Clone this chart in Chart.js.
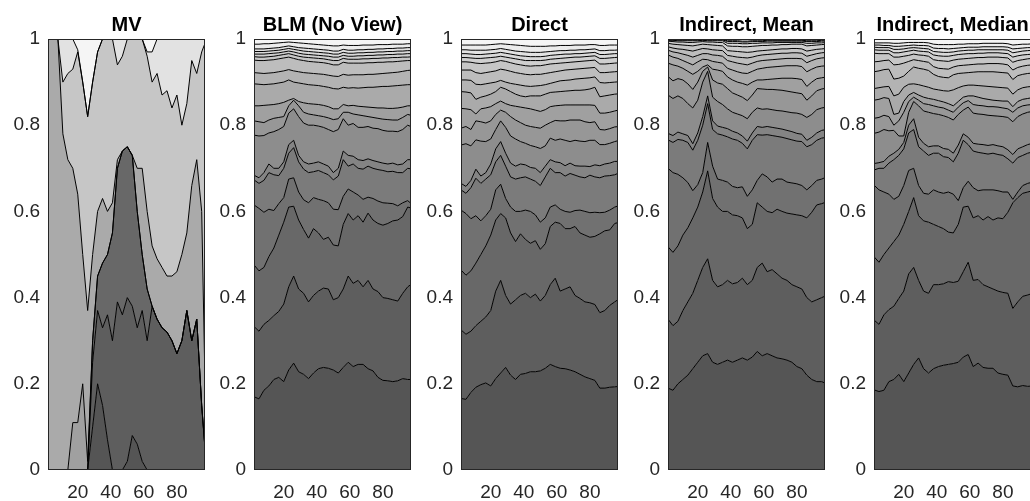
<!DOCTYPE html>
<html>
<head>
<meta charset="utf-8">
<script src="https://cdn.jsdelivr.net/npm/chart.js@4.4.1/dist/chart.umd.min.js"></script>
<style>
  html, body { margin: 0; padding: 0; background: #fff; overflow: hidden; }
  #wrap { position: relative; width: 1030px; height: 501px; overflow: hidden; }
  canvas { position: absolute; top: 0; }
</style>
</head>
<body>
<div id="wrap">
  <canvas id="p0" width="206" height="501" style="left:0px"></canvas>
  <canvas id="p1" width="206" height="501" style="left:206px"></canvas>
  <canvas id="p2" width="206" height="501" style="left:413px"></canvas>
  <canvas id="p3" width="206" height="501" style="left:620px"></canvas>
  <canvas id="p4" width="206" height="501" style="left:826px"></canvas>
</div>
<script>
// periods (x) shared by every panel
const X = [2,5,8,11,14,17,20,23,26,29,32,35,38,41,44,47,50,53,56,59,62,65,68,71,74,77,80,83,86,89,92,95,98];
const X_TICKS = [20, 40, 60, 80];
const Y_TICKS = [0, 0.2, 0.4, 0.6, 0.8, 1];
const TITLES = ["MV", "BLM (No View)", "Direct", "Indirect, Mean", "Indirect, Median"];

// cumulative weight boundaries, bottom to top
const MV = [
  [0,0,0,0,0,0,0,0,0,0.1,0.2,0.15,0.07,0,0,0,0.02,0.08,0.06,0.02,0,0,0,0,0,0,0,0,0,0,0,0,0],
  [0,0,0,0,0,0,0,0,0,0.25,0.37,0.33,0.36,0.3,0.39,0.36,0.4,0.38,0.33,0.37,0.3,0.38,0.35,0.33,0.32,0.3,0.27,0.3,0.37,0.3,0.35,0.15,0],
  [0,0,0,0,0,0,0,0,0,0.3,0.45,0.48,0.5,0.55,0.7,0.74,0.75,0.73,0.6,0.5,0.42,0.38,0.35,0.33,0.32,0.3,0.27,0.3,0.37,0.3,0.35,0.15,0],
  [0,0,0,0,0,0.11,0.11,0.2,0.02,0.3,0.45,0.48,0.5,0.55,0.7,0.74,0.75,0.73,0.6,0.5,0.42,0.38,0.35,0.33,0.32,0.3,0.27,0.3,0.37,0.3,0.35,0.15,0],
  [1,1,1,0.78,0.72,0.7,0.64,0.5,0.37,0.5,0.6,0.63,0.6,0.62,0.72,0.74,0.75,0.73,0.7,0.7,0.6,0.52,0.49,0.47,0.45,0.45,0.46,0.5,0.55,0.66,0.72,0.6,0],
  [1,1,1,0.9,0.92,0.93,0.97,0.9,0.82,0.9,0.97,1,1,1,0.94,0.96,1,1,1,1,0.96,0.9,0.92,0.87,0.88,0.84,0.87,0.8,0.85,0.95,0.92,0.97,1],
  [1,1,1,1,1,1,0.975,0.9,0.82,0.9,0.97,1,1,1,1,1,1,1,1,1,0.97,0.97,1,1,1,1,1,1,1,1,1,1,1]
];
const MV_SHADES = [0, 1, 2, 8, 9, 12, 15, 17];

const BLM = [
  [0.17,0.165,0.185,0.195,0.21,0.215,0.205,0.232,0.248,0.228,0.222,0.212,0.225,0.235,0.238,0.236,0.232,0.225,0.238,0.25,0.24,0.245,0.245,0.235,0.23,0.215,0.208,0.207,0.205,0.207,0.212,0.21,0.21],
  [0.333,0.322,0.338,0.347,0.358,0.368,0.385,0.425,0.45,0.42,0.41,0.39,0.405,0.415,0.422,0.42,0.395,0.4,0.42,0.45,0.433,0.44,0.425,0.44,0.42,0.414,0.4,0.398,0.395,0.392,0.41,0.425,0.433],
  [0.476,0.462,0.47,0.495,0.515,0.545,0.575,0.61,0.612,0.58,0.558,0.538,0.56,0.55,0.535,0.54,0.522,0.52,0.57,0.595,0.58,0.59,0.575,0.596,0.58,0.572,0.568,0.572,0.578,0.58,0.588,0.61,0.607],
  [0.615,0.607,0.598,0.605,0.602,0.618,0.632,0.675,0.678,0.645,0.627,0.62,0.632,0.628,0.625,0.62,0.605,0.604,0.635,0.652,0.645,0.638,0.628,0.633,0.63,0.624,0.62,0.619,0.618,0.613,0.62,0.625,0.615],
  [0.673,0.665,0.672,0.69,0.685,0.683,0.7,0.735,0.748,0.715,0.698,0.69,0.692,0.695,0.69,0.685,0.673,0.682,0.72,0.705,0.71,0.7,0.698,0.705,0.7,0.697,0.695,0.692,0.693,0.69,0.69,0.7,0.698],
  [0.684,0.678,0.69,0.71,0.7,0.7,0.715,0.755,0.765,0.73,0.715,0.71,0.712,0.715,0.71,0.705,0.69,0.7,0.74,0.73,0.728,0.72,0.718,0.722,0.718,0.715,0.712,0.71,0.712,0.708,0.71,0.72,0.72],
  [0.777,0.775,0.776,0.782,0.785,0.79,0.797,0.828,0.838,0.82,0.805,0.8,0.8,0.798,0.795,0.79,0.785,0.79,0.815,0.8,0.804,0.795,0.795,0.797,0.793,0.792,0.788,0.786,0.786,0.785,0.79,0.8,0.795],
  [0.81,0.808,0.806,0.812,0.816,0.818,0.82,0.845,0.858,0.845,0.83,0.826,0.824,0.822,0.82,0.817,0.813,0.815,0.83,0.83,0.826,0.824,0.822,0.82,0.818,0.816,0.814,0.813,0.812,0.812,0.818,0.825,0.822],
  [0.845,0.845,0.846,0.847,0.848,0.85,0.853,0.858,0.862,0.855,0.852,0.85,0.849,0.848,0.846,0.843,0.838,0.838,0.848,0.845,0.846,0.844,0.843,0.842,0.841,0.84,0.84,0.839,0.839,0.84,0.842,0.845,0.845],
  [0.896,0.895,0.894,0.895,0.896,0.898,0.9,0.905,0.9,0.898,0.896,0.894,0.893,0.892,0.89,0.888,0.885,0.884,0.888,0.886,0.887,0.886,0.887,0.888,0.888,0.889,0.89,0.89,0.891,0.892,0.893,0.894,0.894],
  [0.922,0.921,0.92,0.921,0.922,0.924,0.926,0.929,0.926,0.924,0.922,0.921,0.92,0.919,0.918,0.916,0.914,0.913,0.918,0.916,0.917,0.917,0.917,0.918,0.918,0.919,0.92,0.921,0.922,0.923,0.925,0.927,0.928],
  [0.951,0.95,0.95,0.951,0.952,0.954,0.956,0.958,0.955,0.952,0.95,0.948,0.947,0.946,0.945,0.943,0.94,0.94,0.946,0.944,0.944,0.944,0.944,0.945,0.945,0.946,0.946,0.947,0.947,0.948,0.949,0.95,0.95],
  [0.959,0.958,0.958,0.959,0.96,0.962,0.964,0.966,0.963,0.96,0.958,0.957,0.956,0.955,0.954,0.952,0.95,0.95,0.955,0.953,0.953,0.953,0.954,0.954,0.955,0.955,0.956,0.956,0.957,0.957,0.958,0.958,0.959],
  [0.965,0.965,0.965,0.966,0.967,0.968,0.97,0.972,0.97,0.967,0.965,0.964,0.963,0.962,0.961,0.96,0.958,0.958,0.962,0.96,0.96,0.961,0.961,0.962,0.962,0.963,0.963,0.964,0.964,0.965,0.965,0.966,0.966],
  [0.971,0.971,0.971,0.972,0.973,0.974,0.976,0.978,0.976,0.974,0.972,0.971,0.97,0.969,0.968,0.967,0.965,0.965,0.969,0.967,0.967,0.968,0.968,0.969,0.969,0.97,0.97,0.971,0.971,0.972,0.972,0.973,0.973],
  [0.977,0.977,0.977,0.978,0.979,0.98,0.982,0.984,0.982,0.98,0.979,0.978,0.977,0.976,0.975,0.974,0.972,0.972,0.976,0.974,0.974,0.975,0.975,0.976,0.976,0.977,0.977,0.978,0.978,0.979,0.979,0.98,0.98],
  [0.988,0.988,0.989,0.989,0.99,0.991,0.992,0.993,0.992,0.991,0.99,0.989,0.988,0.987,0.986,0.985,0.984,0.984,0.986,0.985,0.985,0.985,0.986,0.986,0.986,0.987,0.987,0.987,0.988,0.988,0.988,0.989,0.989]
];

const DIRECT = [
  [0.166,0.164,0.18,0.192,0.198,0.202,0.195,0.212,0.225,0.238,0.22,0.21,0.222,0.224,0.228,0.228,0.23,0.236,0.245,0.24,0.236,0.235,0.232,0.228,0.222,0.216,0.212,0.208,0.19,0.19,0.192,0.193,0.194],
  [0.325,0.315,0.322,0.335,0.345,0.355,0.37,0.415,0.44,0.405,0.385,0.395,0.405,0.41,0.4,0.408,0.392,0.405,0.43,0.445,0.415,0.42,0.425,0.405,0.398,0.39,0.388,0.384,0.365,0.37,0.382,0.39,0.398],
  [0.464,0.452,0.462,0.48,0.5,0.52,0.545,0.58,0.595,0.585,0.55,0.53,0.548,0.535,0.526,0.532,0.512,0.525,0.565,0.575,0.572,0.56,0.56,0.565,0.55,0.545,0.54,0.542,0.548,0.555,0.557,0.572,0.575],
  [0.603,0.595,0.583,0.59,0.578,0.59,0.605,0.65,0.663,0.63,0.61,0.6,0.6,0.603,0.6,0.592,0.575,0.585,0.61,0.615,0.605,0.6,0.598,0.602,0.603,0.6,0.597,0.598,0.597,0.598,0.603,0.61,0.614],
  [0.65,0.642,0.655,0.677,0.665,0.675,0.685,0.715,0.73,0.705,0.68,0.675,0.678,0.68,0.675,0.67,0.66,0.68,0.7,0.69,0.69,0.682,0.688,0.684,0.68,0.678,0.684,0.68,0.678,0.682,0.683,0.685,0.69],
  [0.665,0.658,0.672,0.698,0.682,0.69,0.71,0.745,0.762,0.735,0.712,0.705,0.71,0.708,0.702,0.7,0.69,0.705,0.72,0.715,0.713,0.706,0.712,0.706,0.705,0.705,0.704,0.708,0.706,0.71,0.712,0.716,0.716],
  [0.754,0.757,0.752,0.766,0.763,0.762,0.768,0.79,0.81,0.795,0.775,0.768,0.762,0.758,0.753,0.75,0.746,0.752,0.77,0.765,0.768,0.765,0.762,0.765,0.763,0.762,0.765,0.765,0.755,0.755,0.758,0.762,0.765],
  [0.793,0.797,0.79,0.81,0.808,0.805,0.81,0.825,0.835,0.83,0.82,0.812,0.806,0.8,0.797,0.795,0.793,0.8,0.806,0.811,0.81,0.81,0.812,0.812,0.812,0.808,0.806,0.808,0.79,0.789,0.792,0.796,0.797],
  [0.839,0.838,0.836,0.826,0.838,0.84,0.843,0.85,0.856,0.85,0.846,0.844,0.842,0.84,0.838,0.835,0.832,0.836,0.843,0.845,0.846,0.847,0.847,0.847,0.847,0.847,0.847,0.846,0.828,0.828,0.83,0.833,0.836],
  [0.878,0.877,0.875,0.86,0.865,0.868,0.872,0.878,0.888,0.884,0.878,0.872,0.868,0.866,0.868,0.868,0.868,0.872,0.876,0.877,0.878,0.879,0.88,0.881,0.881,0.882,0.884,0.888,0.866,0.868,0.87,0.872,0.873],
  [0.905,0.905,0.904,0.895,0.894,0.896,0.898,0.9,0.904,0.9,0.897,0.895,0.893,0.891,0.89,0.891,0.892,0.894,0.897,0.9,0.903,0.904,0.905,0.907,0.908,0.909,0.91,0.912,0.899,0.898,0.899,0.9,0.901],
  [0.928,0.928,0.928,0.922,0.92,0.922,0.924,0.926,0.93,0.928,0.925,0.922,0.92,0.918,0.917,0.918,0.918,0.92,0.922,0.924,0.926,0.928,0.929,0.93,0.931,0.932,0.933,0.934,0.922,0.922,0.923,0.924,0.925],
  [0.947,0.947,0.946,0.944,0.943,0.944,0.945,0.947,0.95,0.948,0.945,0.942,0.94,0.938,0.937,0.938,0.938,0.94,0.942,0.943,0.944,0.945,0.946,0.947,0.948,0.949,0.95,0.951,0.942,0.942,0.943,0.944,0.945],
  [0.957,0.957,0.956,0.955,0.955,0.956,0.957,0.958,0.96,0.958,0.956,0.954,0.952,0.95,0.95,0.95,0.95,0.951,0.953,0.954,0.955,0.956,0.957,0.958,0.958,0.959,0.96,0.961,0.955,0.955,0.956,0.957,0.958],
  [0.966,0.966,0.965,0.964,0.964,0.965,0.966,0.967,0.969,0.967,0.965,0.963,0.961,0.96,0.959,0.959,0.959,0.96,0.962,0.963,0.964,0.965,0.965,0.966,0.966,0.967,0.968,0.969,0.964,0.964,0.965,0.966,0.966],
  [0.975,0.975,0.974,0.974,0.974,0.974,0.975,0.976,0.978,0.976,0.974,0.972,0.971,0.97,0.969,0.969,0.969,0.97,0.971,0.972,0.973,0.973,0.974,0.974,0.975,0.975,0.976,0.977,0.973,0.973,0.974,0.974,0.975],
  [0.986,0.986,0.986,0.986,0.986,0.986,0.987,0.988,0.989,0.988,0.987,0.986,0.985,0.984,0.983,0.983,0.983,0.983,0.984,0.984,0.985,0.985,0.985,0.986,0.986,0.986,0.987,0.987,0.985,0.985,0.986,0.986,0.986]
];

const MEAN = [
  [0.19,0.185,0.2,0.21,0.22,0.235,0.25,0.265,0.27,0.25,0.245,0.25,0.255,0.25,0.255,0.26,0.255,0.262,0.275,0.265,0.27,0.265,0.26,0.258,0.255,0.25,0.24,0.235,0.22,0.21,0.205,0.205,0.2],
  [0.35,0.335,0.345,0.37,0.39,0.41,0.44,0.47,0.49,0.44,0.425,0.43,0.44,0.432,0.435,0.445,0.43,0.44,0.47,0.48,0.46,0.465,0.455,0.445,0.44,0.43,0.425,0.42,0.4,0.39,0.395,0.4,0.405],
  [0.518,0.505,0.52,0.545,0.562,0.585,0.61,0.645,0.694,0.63,0.61,0.6,0.6,0.592,0.59,0.585,0.56,0.57,0.62,0.61,0.6,0.597,0.605,0.6,0.596,0.594,0.592,0.59,0.585,0.598,0.615,0.618,0.622],
  [0.7,0.69,0.686,0.678,0.667,0.648,0.662,0.69,0.76,0.705,0.675,0.672,0.668,0.658,0.655,0.657,0.635,0.65,0.672,0.687,0.68,0.668,0.675,0.675,0.668,0.666,0.664,0.66,0.65,0.66,0.672,0.675,0.68],
  [0.766,0.76,0.767,0.765,0.76,0.742,0.765,0.8,0.85,0.79,0.78,0.777,0.773,0.768,0.765,0.758,0.745,0.765,0.778,0.777,0.778,0.776,0.774,0.772,0.769,0.766,0.763,0.762,0.75,0.755,0.765,0.77,0.772],
  [0.781,0.776,0.784,0.78,0.776,0.757,0.782,0.82,0.868,0.81,0.798,0.795,0.792,0.786,0.782,0.775,0.763,0.782,0.797,0.795,0.797,0.795,0.793,0.791,0.788,0.785,0.781,0.779,0.765,0.772,0.782,0.788,0.79],
  [0.87,0.862,0.868,0.862,0.85,0.84,0.858,0.9,0.925,0.865,0.855,0.848,0.838,0.83,0.826,0.822,0.815,0.83,0.84,0.837,0.838,0.836,0.834,0.833,0.831,0.829,0.828,0.825,0.818,0.825,0.836,0.84,0.842],
  [0.913,0.903,0.908,0.905,0.896,0.883,0.9,0.925,0.935,0.905,0.898,0.895,0.885,0.875,0.87,0.865,0.857,0.87,0.885,0.884,0.883,0.883,0.882,0.881,0.879,0.877,0.875,0.873,0.858,0.868,0.88,0.884,0.886],
  [0.944,0.94,0.937,0.932,0.925,0.918,0.925,0.935,0.94,0.93,0.928,0.925,0.912,0.905,0.9,0.897,0.893,0.9,0.905,0.905,0.906,0.907,0.908,0.909,0.909,0.909,0.908,0.906,0.89,0.9,0.908,0.91,0.912],
  [0.963,0.958,0.955,0.95,0.945,0.94,0.947,0.953,0.952,0.948,0.946,0.944,0.932,0.928,0.924,0.921,0.92,0.925,0.93,0.932,0.934,0.935,0.936,0.937,0.938,0.938,0.938,0.936,0.924,0.93,0.935,0.937,0.938],
  [0.974,0.97,0.968,0.965,0.962,0.958,0.962,0.966,0.966,0.963,0.962,0.96,0.95,0.947,0.944,0.942,0.94,0.944,0.948,0.95,0.951,0.952,0.953,0.954,0.955,0.955,0.955,0.954,0.945,0.95,0.954,0.956,0.957],
  [0.982,0.979,0.977,0.976,0.974,0.972,0.975,0.978,0.977,0.975,0.974,0.973,0.962,0.96,0.958,0.957,0.956,0.958,0.961,0.963,0.964,0.965,0.966,0.967,0.967,0.968,0.968,0.967,0.96,0.963,0.966,0.968,0.969],
  [0.99,0.988,0.987,0.986,0.985,0.984,0.986,0.988,0.987,0.986,0.985,0.984,0.973,0.972,0.971,0.97,0.969,0.97,0.972,0.973,0.974,0.975,0.976,0.977,0.977,0.978,0.978,0.977,0.972,0.974,0.976,0.977,0.978],
  [0.995,0.994,0.993,0.993,0.992,0.992,0.993,0.994,0.993,0.993,0.992,0.992,0.984,0.983,0.983,0.982,0.982,0.983,0.984,0.985,0.985,0.986,0.986,0.987,0.987,0.988,0.988,0.988,0.984,0.985,0.986,0.987,0.988],
  [0.997,0.997,0.996,0.996,0.996,0.996,0.996,0.997,0.996,0.996,0.996,0.996,0.99,0.99,0.99,0.989,0.989,0.99,0.99,0.991,0.991,0.991,0.992,0.992,0.992,0.992,0.992,0.992,0.99,0.99,0.991,0.991,0.992],
  [0.998,0.998,0.998,0.998,0.998,0.998,0.998,0.998,0.998,0.998,0.998,0.998,0.994,0.994,0.994,0.993,0.993,0.994,0.994,0.994,0.995,0.995,0.995,0.995,0.995,0.995,0.995,0.995,0.994,0.994,0.994,0.995,0.995],
  [0.999,0.999,0.999,0.999,0.999,0.999,0.999,0.999,0.999,0.999,0.999,0.999,0.996,0.996,0.996,0.995,0.995,0.996,0.996,0.996,0.997,0.997,0.997,0.997,0.997,0.997,0.997,0.997,0.996,0.996,0.996,0.997,0.997]
];

const MEDIAN = [
  [0.186,0.182,0.185,0.205,0.21,0.222,0.205,0.225,0.245,0.26,0.235,0.225,0.235,0.24,0.243,0.245,0.247,0.25,0.262,0.268,0.24,0.248,0.238,0.236,0.236,0.225,0.222,0.22,0.195,0.193,0.196,0.194,0.195],
  [0.348,0.338,0.36,0.372,0.38,0.398,0.415,0.455,0.47,0.44,0.415,0.41,0.43,0.43,0.432,0.437,0.435,0.438,0.46,0.482,0.44,0.442,0.43,0.425,0.42,0.415,0.412,0.41,0.375,0.39,0.403,0.406,0.41],
  [0.495,0.482,0.5,0.515,0.53,0.545,0.57,0.6,0.632,0.59,0.578,0.575,0.57,0.565,0.56,0.552,0.55,0.57,0.61,0.612,0.585,0.59,0.58,0.588,0.58,0.585,0.583,0.598,0.62,0.632,0.642,0.645,0.648],
  [0.661,0.65,0.645,0.64,0.628,0.635,0.66,0.695,0.7,0.66,0.642,0.64,0.65,0.645,0.642,0.645,0.64,0.625,0.655,0.67,0.655,0.648,0.65,0.65,0.65,0.648,0.645,0.645,0.628,0.645,0.66,0.665,0.668],
  [0.696,0.7,0.7,0.712,0.72,0.73,0.745,0.782,0.79,0.75,0.74,0.73,0.735,0.735,0.727,0.725,0.715,0.735,0.765,0.755,0.74,0.737,0.735,0.733,0.735,0.732,0.73,0.722,0.712,0.725,0.73,0.735,0.738],
  [0.711,0.713,0.716,0.728,0.735,0.744,0.76,0.8,0.815,0.772,0.758,0.75,0.752,0.752,0.746,0.744,0.735,0.754,0.78,0.772,0.758,0.756,0.755,0.753,0.755,0.752,0.75,0.743,0.732,0.745,0.75,0.755,0.758],
  [0.781,0.784,0.79,0.787,0.788,0.775,0.775,0.83,0.855,0.845,0.833,0.83,0.827,0.825,0.822,0.818,0.812,0.825,0.835,0.842,0.828,0.826,0.825,0.823,0.822,0.821,0.82,0.818,0.808,0.82,0.826,0.83,0.832],
  [0.816,0.818,0.823,0.82,0.8,0.81,0.83,0.855,0.865,0.858,0.85,0.848,0.845,0.842,0.84,0.835,0.83,0.842,0.852,0.857,0.848,0.846,0.845,0.843,0.843,0.842,0.84,0.838,0.83,0.84,0.845,0.847,0.848],
  [0.858,0.86,0.864,0.862,0.825,0.828,0.855,0.87,0.876,0.87,0.865,0.862,0.86,0.857,0.854,0.85,0.845,0.855,0.865,0.868,0.868,0.865,0.862,0.86,0.858,0.857,0.856,0.856,0.843,0.855,0.86,0.862,0.864],
  [0.885,0.887,0.889,0.89,0.868,0.872,0.888,0.895,0.896,0.894,0.891,0.888,0.884,0.882,0.88,0.879,0.882,0.887,0.891,0.893,0.893,0.892,0.891,0.89,0.889,0.888,0.887,0.886,0.872,0.882,0.887,0.889,0.89],
  [0.924,0.926,0.929,0.93,0.907,0.909,0.914,0.925,0.935,0.932,0.93,0.927,0.918,0.913,0.911,0.91,0.917,0.92,0.921,0.922,0.923,0.924,0.924,0.924,0.924,0.923,0.922,0.921,0.906,0.915,0.918,0.92,0.921],
  [0.947,0.948,0.95,0.951,0.94,0.941,0.944,0.948,0.952,0.95,0.948,0.946,0.936,0.932,0.931,0.93,0.935,0.938,0.939,0.94,0.941,0.942,0.942,0.943,0.943,0.943,0.942,0.94,0.928,0.934,0.937,0.939,0.94],
  [0.967,0.966,0.966,0.966,0.958,0.958,0.96,0.962,0.965,0.963,0.962,0.96,0.952,0.95,0.949,0.948,0.951,0.953,0.954,0.955,0.956,0.957,0.957,0.958,0.958,0.958,0.957,0.956,0.946,0.95,0.952,0.954,0.955],
  [0.975,0.974,0.974,0.974,0.968,0.968,0.97,0.972,0.974,0.972,0.971,0.97,0.963,0.961,0.96,0.96,0.962,0.964,0.965,0.966,0.966,0.967,0.967,0.968,0.968,0.968,0.967,0.966,0.958,0.961,0.963,0.964,0.965],
  [0.981,0.98,0.98,0.98,0.976,0.976,0.977,0.979,0.98,0.979,0.978,0.977,0.971,0.97,0.969,0.969,0.97,0.972,0.973,0.974,0.974,0.975,0.975,0.975,0.975,0.975,0.975,0.974,0.968,0.97,0.972,0.973,0.974],
  [0.986,0.986,0.985,0.985,0.983,0.983,0.984,0.985,0.986,0.985,0.985,0.984,0.979,0.978,0.978,0.977,0.978,0.979,0.98,0.981,0.981,0.981,0.982,0.982,0.982,0.982,0.982,0.981,0.977,0.978,0.979,0.98,0.98],
  [0.991,0.991,0.991,0.991,0.99,0.99,0.991,0.992,0.992,0.992,0.992,0.991,0.988,0.987,0.987,0.987,0.987,0.988,0.988,0.989,0.989,0.989,0.99,0.99,0.99,0.99,0.99,0.989,0.986,0.987,0.988,0.988,0.989]
];

const PANELS = [MV, BLM, DIRECT, MEAN, MEDIAN];
const FONT = "'Liberation Sans', Arial, Helvetica, sans-serif";

// gray ramp: dark bottom asset -> near white top asset
const gray = (i) => {
  const v = Math.round(85 + i * 160 / 17);
  return `rgb(${v},${v},${v})`;
};

const boxPlugin = {
  id: "box",
  beforeDraw(chart, args, opts) {
    const a = chart.chartArea, ctx = chart.ctx;
    ctx.save();
    ctx.fillStyle = opts.top;
    ctx.fillRect(a.left, a.top, a.right - a.left, a.bottom - a.top);
    ctx.restore();
  },
  afterDatasetsDraw(chart) {
    const a = chart.chartArea, ctx = chart.ctx;
    ctx.save();
    ctx.strokeStyle = "#262626";
    ctx.lineWidth = 1;
    ctx.strokeRect(Math.round(a.left) + 0.5, Math.round(a.top) + 0.5,
                   Math.round(a.right - a.left) - 1, Math.round(a.bottom - a.top) - 1);
    ctx.restore();
  }
};

PANELS.forEach((lines, p) => {
  const shades = p === 0 ? MV_SHADES : lines.map((_, i) => i).concat([lines.length]);
  const datasets = lines.map((ys, i) => ({
    data: ys.map((y, j) => ({ x: X[j], y: y })),
    borderColor: "#000",
    borderWidth: 1,
    backgroundColor: gray(shades[i]),
    fill: i === 0 ? "origin" : "-1",
    pointRadius: 0,
    tension: 0
  }));

  new Chart(document.getElementById("p" + p), {
    type: "line",
    data: { datasets },
    options: {
      responsive: false,
      animation: false,
      devicePixelRatio: 1,
      layout: { padding: { right: 1, top: 0, bottom: 0, left: 0 } },
      plugins: {
        legend: { display: false },
        tooltip: { enabled: false },
        filler: { drawTime: "beforeDatasetsDraw" },
        box: { top: gray(shades[shades.length - 1]) },
        title: {
          display: true,
          text: TITLES[p],
          fullSize: false,
          color: "#000",
          font: { family: FONT, size: 20, weight: "bold" },
          padding: { top: 13, bottom: 2 }
        }
      },
      scales: {
        x: {
          type: "linear",
          min: 2,
          max: 97,
          grid: { display: false, drawTicks: false },
          border: { display: false },
          afterBuildTicks: (s) => { s.ticks = X_TICKS.map(v => ({ value: v })); },
          afterFit: (s) => { s.height = 31; },
          ticks: {
            padding: 11,
            color: "#262626",
            autoSkip: false,
            maxRotation: 0,
            font: { family: FONT, size: 19 },
            callback: (v) => String(v)
          }
        },
        y: {
          min: 0,
          max: 1,
          grid: { display: false, drawTicks: false },
          border: { display: false },
          afterBuildTicks: (s) => { s.ticks = Y_TICKS.map(v => ({ value: v })); },
          afterFit: (s) => { s.width = 48; },
          ticks: {
            padding: 8,
            color: "#262626",
            font: { family: FONT, size: 19 },
            callback: (v) => String(v)
          }
        }
      }
    },
    plugins: [boxPlugin]
  });
});
</script>
</body>
</html>
